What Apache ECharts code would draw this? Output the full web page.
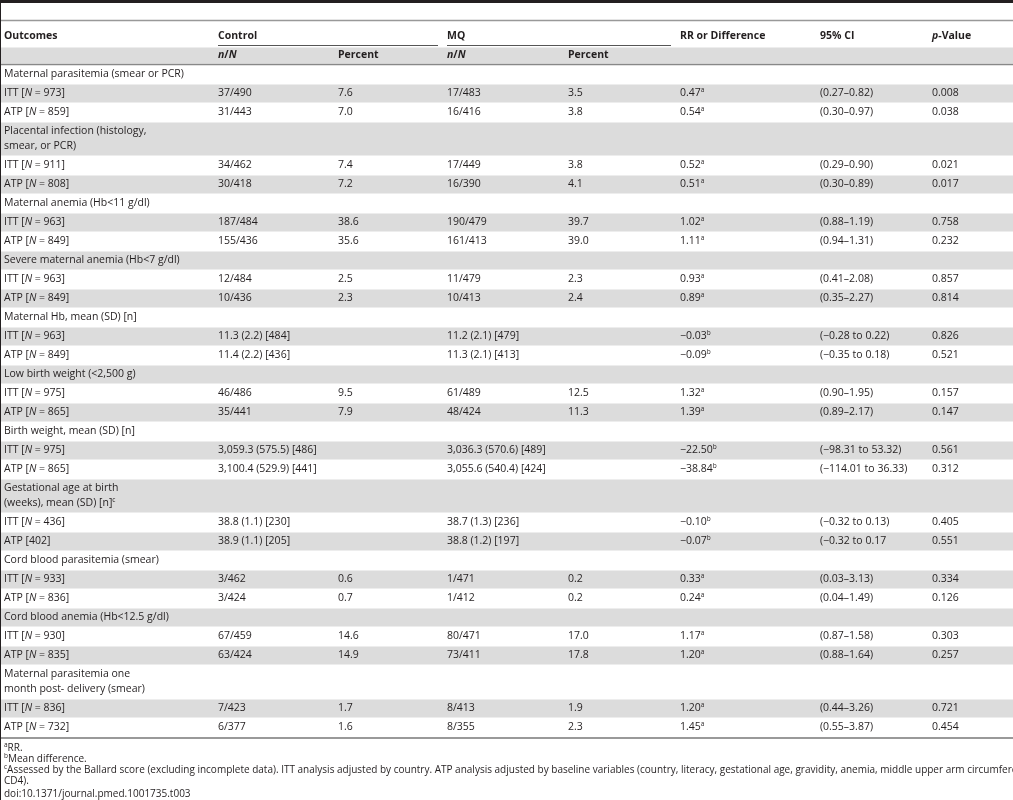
<!DOCTYPE html>
<html><head><meta charset="utf-8">
<script src="https://cdn.jsdelivr.net/npm/echarts@6/dist/echarts.min.js"></script>
<style>html,body{margin:0;padding:0;background:#fff}#c{width:1013px;height:800px}</style>
</head><body><div id="c"></div>
<script>
const headers = ['Outcomes', 'Control', 'MQ', 'RR or Difference', '95% CI', '{i|p}-Value'];
const subHeaders = ['{i|n}/{i|N}', 'Percent', '{i|n}/{i|N}', 'Percent'];
const groups = [
  'Maternal parasitemia (smear or PCR)',
  'Placental infection (histology,\nsmear, or PCR)',
  'Maternal anemia (Hb<11 g/dl)',
  'Severe maternal anemia (Hb<7 g/dl)',
  'Maternal Hb, mean (SD) [n]',
  'Low birth weight (<2,500 g)',
  'Birth weight, mean (SD) [n]',
  'Gestational age at birth\n(weeks), mean (SD) [n]{s|c}',
  'Cord blood parasitemia (smear)',
  'Cord blood anemia (Hb<12.5 g/dl)',
  'Maternal parasitemia one\nmonth post- delivery (smear)'
];
const rowLabels = [
  'ITT [{i|N} = 973]','ATP [{i|N} = 859]','ITT [{i|N} = 911]','ATP [{i|N} = 808]',
  'ITT [{i|N} = 963]','ATP [{i|N} = 849]','ITT [{i|N} = 963]','ATP [{i|N} = 849]',
  'ITT [{i|N} = 963]','ATP [{i|N} = 849]','ITT [{i|N} = 975]','ATP [{i|N} = 865]',
  'ITT [{i|N} = 975]','ATP [{i|N} = 865]','ITT [{i|N} = 436]','ATP [402]',
  'ITT [{i|N} = 933]','ATP [{i|N} = 836]','ITT [{i|N} = 930]','ATP [{i|N} = 835]',
  'ITT [{i|N} = 836]','ATP [{i|N} = 732]'
];
const controlNN = ['37/490','31/443','34/462','30/418','187/484','155/436','12/484','10/436','11.3 (2.2) [484]','11.4 (2.2) [436]','46/486','35/441','3,059.3 (575.5) [486]','3,100.4 (529.9) [441]','38.8 (1.1) [230]','38.9 (1.1) [205]','3/462','3/424','67/459','63/424','7/423','6/377'];
const controlPct = ['7.6','7.0','7.4','7.2','38.6','35.6','2.5','2.3','','','9.5','7.9','','','','','0.6','0.7','14.6','14.9','1.7','1.6'];
const mqNN = ['17/483','16/416','17/449','16/390','190/479','161/413','11/479','10/413','11.2 (2.1) [479]','11.3 (2.1) [413]','61/489','48/424','3,036.3 (570.6) [489]','3,055.6 (540.4) [424]','38.7 (1.3) [236]','38.8 (1.2) [197]','1/471','1/412','80/471','73/411','8/413','8/355'];
const mqPct = ['3.5','3.8','3.8','4.1','39.7','39.0','2.3','2.4','','','12.5','11.3','','','','','0.2','0.2','17.0','17.8','1.9','2.3'];
const rrValues = ['0.47','0.54','0.52','0.51','1.02','1.11','0.93','0.89','\u22120.03','\u22120.09','1.32','1.39','\u221222.50','\u221238.84','\u22120.10','\u22120.07','0.33','0.24','1.17','1.20','1.20','1.45'];
const rrNotes = ['a','a','a','a','a','a','a','a','b','b','a','a','b','b','b','b','a','a','a','a','a','a'];
const ciValues = ['(0.27\u20130.82)','(0.30\u20130.97)','(0.29\u20130.90)','(0.30\u20130.89)','(0.88\u20131.19)','(0.94\u20131.31)','(0.41\u20132.08)','(0.35\u20132.27)','(\u22120.28 to 0.22)','(\u22120.35 to 0.18)','(0.90\u20131.95)','(0.89\u20132.17)','(\u221298.31 to 53.32)','(\u2212114.01 to 36.33)','(\u22120.32 to 0.13)','(\u22120.32 to 0.17','(0.03\u20133.13)','(0.04\u20131.49)','(0.87\u20131.58)','(0.88\u20131.64)','(0.44\u20133.26)','(0.55\u20133.87)'];
const pValues = ['0.008','0.038','0.021','0.017','0.758','0.232','0.857','0.814','0.826','0.521','0.157','0.147','0.561','0.312','0.405','0.551','0.334','0.126','0.303','0.257','0.721','0.454'];
const footnotes = ['{s|a}RR.','{s|b}Mean difference.','{s|c}Assessed by the Ballard score (excluding incomplete data). ITT analysis adjusted by country. ATP analysis adjusted by baseline variables (country, literacy, gestational age, gravidity, anemia, middle upper arm circumference, and\nCD4).','doi:10.1371/journal.pmed.1001735.t003'];

// ---- layout (code) ----
const colX = [4, 218, 338, 447, 568, 680, 820, 932];
const FONT = '"Open Sans", "Noto Sans", sans-serif';
const COLOR = '#231f20';
function richFor(size, bold) {
  return {
    i: {fontStyle: 'italic', fontWeight: bold ? 'bold' : 'normal', fontSize: size, fontFamily: FONT, fill: COLOR},
    s: {fontSize: 6.5, fontFamily: FONT, fill: COLOR, padding: [0, 0, 6, 0]}
  };
}
const bodyRows = [];
groups.forEach((g, gi) => {
  bodyRows.push({kind: 'group', text: g, h: g.includes('\n') ? 34 : 19});
  for (let k = 0; k < 2; k++) bodyRows.push({kind: 'data', idx: gi * 2 + k, h: 19});
});
let y = 65;
const rects = [], texts = [];
bodyRows.forEach((r, ri) => {
  if (ri % 2 === 1) rects.push([0, y, 1013, r.h, '#dcdcdc']);
  const cy = y + r.h / 2;
  if (r.kind === 'group') {
    texts.push([colX[0], cy, r.text, 'normal', 15, 10.5]);
  } else {
    const i = r.idx;
    const cells = [rowLabels[i], controlNN[i], controlPct[i], mqNN[i], mqPct[i], rrValues[i] + '{s|' + rrNotes[i] + '}', ciValues[i], pValues[i]];
    cells.forEach((c, ci) => texts.push([colX[ci], cy, c, 'normal', 15, 10.5]));
  }
  y += r.h;
});
const bodyBottom = y;
rects.push([0, 47, 1013, 17, '#dcdcdc']);
const hdrX = [colX[0], colX[1], colX[3], colX[5], colX[6], colX[7]];
headers.forEach((h, k) => texts.push([hdrX[k], 36, h, 'bold', 15, 10.5]));
subHeaders.forEach((h, k) => texts.push([colX[k + 1], 55.5, h, 'bold', 15, 10.5]));
footnotes.forEach((f, k) => texts.push([colX[0], [748, 759, 775.5, 794][k], f, 'normal', 11, 10]));
const lines = [
  [0, 1.5, 1013, 1.5, '#231f20', 3],
  [0, 20.5, 1013, 20.5, '#999', 1.5],
  [218, 45.5, 438, 45.5, '#555', 1],
  [447, 45.5, 671, 45.5, '#555', 1],
  [0, 64.5, 1013, 64.5, '#888', 1.5],
  [0, bodyBottom + 1, 1013, bodyBottom + 1, '#777', 1.5],
  [0.5, 0, 0.5, 800, '#231f20', 1]
];

const chart = echarts.init(document.getElementById('c'), null, {renderer: 'canvas'});
chart.setOption({
  animation: false,
  grid: {left: 0, right: 0, top: 0, bottom: 0},
  xAxis: {type: 'value', min: 0, max: 1013, show: false},
  yAxis: {type: 'value', min: 0, max: 800, inverse: true, show: false},
  series: [
    {type: 'custom', data: rects, renderItem: (p, api) => {
      const a = api.coord([api.value(0), api.value(1)]);
      const b = api.coord([api.value(0) + api.value(2), api.value(1) + api.value(3)]);
      return {type: 'rect', shape: {x: a[0], y: a[1] + 0.5, width: b[0] - a[0], height: b[1] - a[1] - 1}, style: {fill: rects[p.dataIndex][4]}};
    }},
    {type: 'custom', data: lines, renderItem: (p, api) => {
      const l = lines[p.dataIndex];
      const a = api.coord([l[0], l[1]]), b = api.coord([l[2], l[3]]);
      return {type: 'line', shape: {x1: a[0], y1: a[1], x2: b[0], y2: b[1]}, style: {stroke: l[4], lineWidth: l[5]}};
    }},
    {type: 'custom', data: texts.map(t => [t[0], t[1]]), renderItem: (p, api) => {
      const t = texts[p.dataIndex];
      const a = api.coord([t[0], t[1]]);
      return {type: 'text', x: a[0], y: a[1], style: {
        text: t[2], fontFamily: FONT, fontSize: t[5], fontWeight: t[3], fill: COLOR,
        verticalAlign: 'middle', align: 'left', lineHeight: t[4],
        rich: richFor(t[5], t[3] === 'bold')
      }};
    }}
  ]
});
</script></body></html>
